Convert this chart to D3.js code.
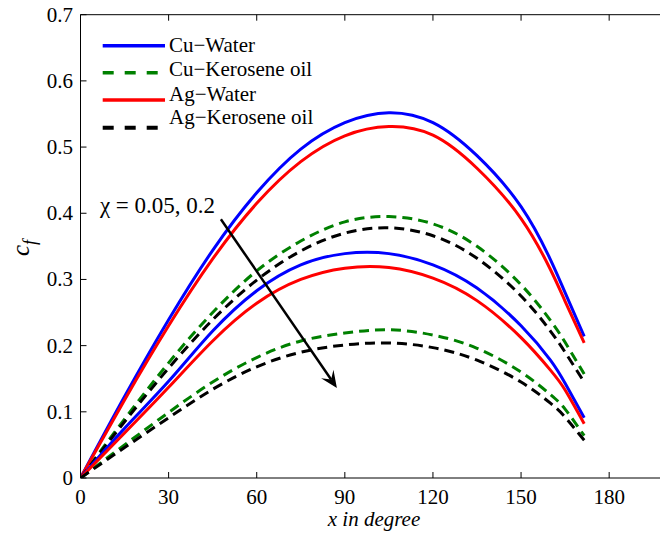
<!DOCTYPE html>
<html><head><meta charset="utf-8">
<script src="https://cdn.jsdelivr.net/npm/d3@7"></script>
<style>body{margin:0;background:#fff}svg{display:block}
text{font-family:"Liberation Serif","Times New Roman","DejaVu Serif",serif}</style>
</head><body>
<svg id="c" width="660" height="536"></svg>
<script>
// ---- data ----
const xDeg = [0,15,30,45,60,75,90,105,120,135,150,160,165,171.5];
const cuWater1  = [0,0.123,0.239,0.344,0.431,0.497,0.537,0.552,0.537,0.487,0.410,0.330,0.280,0.214];
const cuKero1   = [0,0.089,0.174,0.250,0.313,0.358,0.387,0.395,0.384,0.350,0.292,0.238,0.205,0.157];
const agWater1  = [0,0.118,0.230,0.331,0.415,0.478,0.517,0.531,0.518,0.468,0.392,0.315,0.267,0.204];
const agKero1   = [0,0.085,0.166,0.239,0.299,0.343,0.370,0.378,0.366,0.332,0.275,0.222,0.190,0.145];
const cuWater2  = [0,0.075,0.146,0.222,0.283,0.322,0.339,0.339,0.322,0.287,0.230,0.178,0.143,0.091];
const cuKero2   = [0,0.050,0.099,0.145,0.182,0.207,0.219,0.224,0.216,0.196,0.160,0.126,0.104,0.064];
const agWater2  = [0,0.068,0.137,0.207,0.264,0.300,0.317,0.318,0.302,0.268,0.212,0.163,0.133,0.082];
const agKero2   = [0,0.046,0.091,0.134,0.168,0.190,0.201,0.204,0.197,0.178,0.145,0.113,0.092,0.057];
const xTicks = [0,30,60,90,120,150,180];
const yTicks = [0,0.1,0.2,0.3,0.4,0.5,0.6,0.7];
const legendNames = ["Cu\u2212Water","Cu\u2212Kerosene oil","Ag\u2212Water","Ag\u2212Kerosene oil"];
const annotText = "\u03C7 = 0.05, 0.2";
const arrowFrom = [47.8, 0.391];
const arrowTo = [87.3, 0.136];
const annotAt = [6.6, 0.40];

// ---- styles ----
const styles = [
  {color:"#0000ff", dash:null},
  {color:"#008000", dash:"10,6"},
  {color:"#ff0000", dash:null},
  {color:"#000000", dash:"10,6"}
];
const series = [
  {vals:cuWater1, s:0},{vals:cuKero1, s:1},{vals:agWater1, s:2},{vals:agKero1, s:3},
  {vals:cuWater2, s:0},{vals:cuKero2, s:1},{vals:agWater2, s:2},{vals:agKero2, s:3}
];

const svg = d3.select("#c");
const L = 80.5, T = 14.7, B = 478;
const x = d3.scaleLinear().domain([0,200]).range([L, L + 200*2.937]);
const y = d3.scaleLinear().domain([0,0.7]).range([B, T]);
const font = '"Liberation Serif","Times New Roman","DejaVu Serif",serif';

svg.append("defs").append("clipPath").attr("id","clip")
  .append("rect").attr("x",L).attr("y",T).attr("width",660-L).attr("height",B-T);

const line = d3.line().x((d,i)=>x(xDeg[i])).y(d=>y(d)).curve(d3.curveNatural);
const g = svg.append("g").attr("clip-path","url(#clip)");
series.forEach(se=>{
  const st = styles[se.s];
  g.append("path").attr("d", line(se.vals)).attr("fill","none")
    .attr("stroke", st.color).attr("stroke-width", 3)
    .attr("stroke-dasharray", st.dash);
});

// axes
const ax = svg.append("g").attr("stroke","#000").attr("stroke-width",1);
ax.append("line").attr("x1",L).attr("x2",660).attr("y1",B).attr("y2",B);
ax.append("line").attr("x1",L).attr("x2",660).attr("y1",T).attr("y2",T);
ax.append("line").attr("x1",L).attr("x2",L).attr("y1",T).attr("y2",B);
xTicks.forEach(t=>{
  ax.append("line").attr("x1",x(t)).attr("x2",x(t)).attr("y1",B).attr("y2",B-6);
  ax.append("line").attr("x1",x(t)).attr("x2",x(t)).attr("y1",T).attr("y2",T+6);
});
yTicks.forEach(t=>{
  ax.append("line").attr("x1",L).attr("x2",L+6).attr("y1",y(t)).attr("y2",y(t));
});
svg.append("g").selectAll("text").data(xTicks).join("text")
  .attr("x",d=>x(d)).attr("y",504).attr("text-anchor","middle")
  .style("font-family",font).attr("font-size",21).text(d=>d);
svg.append("g").selectAll("text").data(yTicks).join("text")
  .attr("x",73).attr("y",d=>y(d)+7).attr("text-anchor","end")
  .style("font-family",font).attr("font-size",21).text(d=>d===0?"0":d.toFixed(1));

// axis labels
svg.append("text").attr("x",374).attr("y",526).attr("text-anchor","middle")
  .style("font-family",font).attr("font-size",21).attr("font-style","italic").text("x in degree");
const yl = svg.append("text").attr("transform","translate(29,256) rotate(-90)")
  .style("font-family",font).attr("font-size",25).attr("font-style","italic");
yl.append("tspan").text("c");
yl.append("tspan").attr("dy",7).attr("font-size",18).text("f");

// legend
const legLineY = [45.7,72.7,100,127.7];
const legTextY = [52,76,101,124];
legendNames.forEach((n,i)=>{
  const st = styles[i];
  svg.append("line").attr("x1",102.7).attr("x2",165).attr("y1",legLineY[i]).attr("y2",legLineY[i])
    .attr("stroke",st.color).attr("stroke-width", i===3?4:3.5)
    .attr("stroke-dasharray", st.dash? "11,11": null);
  svg.append("text").attr("x",169).attr("y",legTextY[i]).style("font-family",font)
    .attr("font-size",21).text(n);
});

// annotation
svg.append("text").attr("x",x(annotAt[0])).attr("y",y(annotAt[1])).style("font-family",font)
  .attr("font-size",23).text(annotText);
const x1 = x(arrowFrom[0]), y1 = y(arrowFrom[1]), x2 = x(arrowTo[0]), y2 = y(arrowTo[1]);
const ang = Math.atan2(y2-y1, x2-x1);
const hl = 17, hw = 7.5;
const bx = x2 - hl*Math.cos(ang), by = y2 - hl*Math.sin(ang);
const nx = -Math.sin(ang), ny = Math.cos(ang);
const ix = x2 - (hl*0.6)*Math.cos(ang), iy = y2 - (hl*0.6)*Math.sin(ang);
svg.append("line").attr("x1",x1).attr("y1",y1).attr("x2",ix).attr("y2",iy)
  .attr("stroke","#000").attr("stroke-width",2.5);
svg.append("path").attr("d",
  `M${x2},${y2} L${bx+nx*hw},${by+ny*hw} L${ix},${iy} L${bx-nx*hw},${by-ny*hw} Z`)
  .attr("fill","#000");
</script>
</body></html>
